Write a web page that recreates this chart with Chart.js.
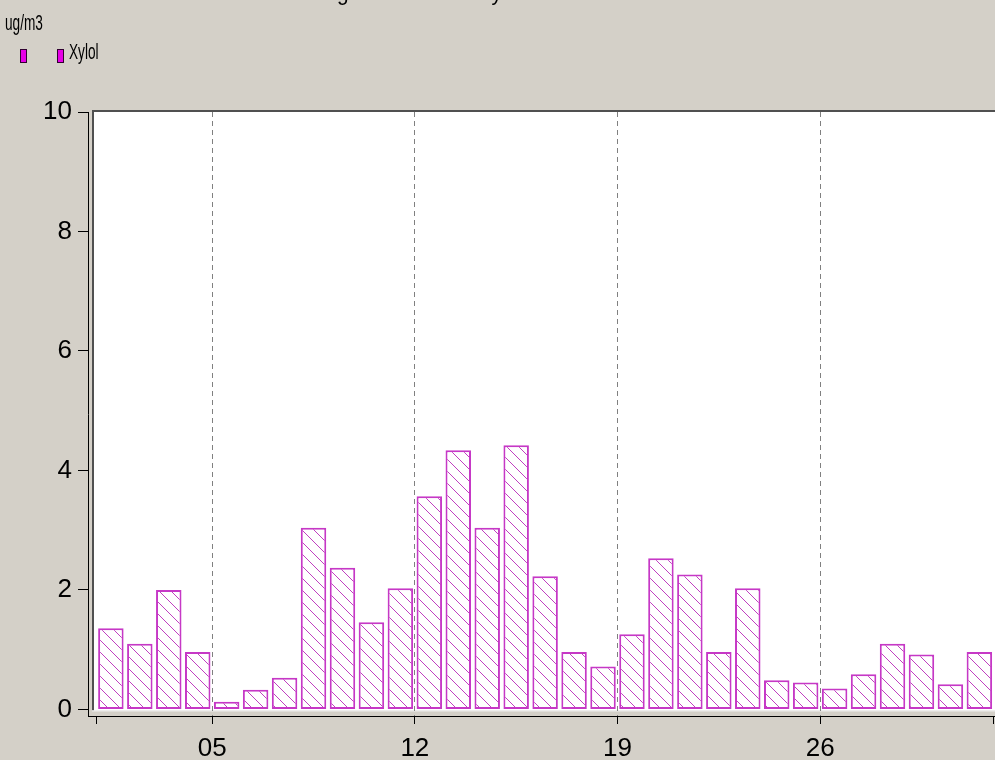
<!DOCTYPE html>
<html>
<head>
<meta charset="utf-8">
<script src="https://cdn.jsdelivr.net/npm/chart.js@4/dist/chart.umd.min.js"></script>
<style>
  html, body { margin: 0; padding: 0; background: #d4d0c8; }
  #wrap { position: relative; width: 995px; height: 760px; overflow: hidden; }
  #chart { position: absolute; left: 0; top: 0; }
  .txt {
    position: absolute; white-space: nowrap; color: #000;
    font-family: 'Liberation Sans', Arial, sans-serif;
    font-size: 22px; line-height: 22px;
    transform: scaleX(0.62); transform-origin: 0 0;
  }
  .sq { position: absolute; width: 5px; height: 12px; background: #e600e6; border: 1px solid #300030; }
</style>
</head>
<body>
<div id="wrap">
  <canvas id="chart" width="995" height="760"></canvas>
  <div class="txt" id="title" style="left:315px; top:-18px; transform:scaleX(0.95);">Tagesmittelwerte Xylol&nbsp;&nbsp; 01.10.2008 - 31.10.2008</div>
  <div class="txt" style="left:5px; top:12px;">ug/m3</div>
  <div class="sq" style="left:20px; top:49px;"></div>
  <div class="sq" style="left:57px; top:49px;"></div>
  <div class="txt" style="left:69px; top:41px;">Xylol</div>
</div>
<script>
// days of October 2008 (one bar per day, drawn at midday)
const DAYS = [1, 2, 3, 4, 5, 6, 7, 8, 9, 10, 11, 12, 13, 14, 15, 16,
  17, 18, 19, 20, 21, 22, 23, 24, 25, 26, 27, 28, 29, 30, 31];
// daily mean Xylol, ug/m3
const XYLOL = [1.36, 1.10, 2.00, 0.96, 0.13, 0.33, 0.53, 3.04, 2.37, 1.46, 2.03,
  3.57, 4.34, 3.04, 4.42, 2.23, 0.96, 0.72, 1.26, 2.53, 2.26, 0.96, 2.03,
  0.49, 0.45, 0.35, 0.59, 1.10, 0.92, 0.42, 0.96];
const X_TICKS = [1, 5, 12, 19, 26, 32];
const X_LABELS = ['', '05', '12', '19', '26', ''];
const Y_TICKS = [0, 2, 4, 6, 8, 10];

const FONT = { family: "'Liberation Sans', Arial, sans-serif", size: 26 };

function hatch() {
  const c = document.createElement('canvas');
  c.width = 12; c.height = 12;
  const g = c.getContext('2d');
  g.fillStyle = '#ffffff';
  g.fillRect(0, 0, 12, 12);
  g.strokeStyle = '#c040c0';
  g.lineWidth = 1;
  g.beginPath();
  g.moveTo(0, 0); g.lineTo(12, 12);
  g.moveTo(-2, 10); g.lineTo(2, 14);
  g.moveTo(10, -2); g.lineTo(14, 2);
  g.stroke();
  return g.createPattern(c, 'repeat');
}

const plotFrame = {
  id: 'plotFrame',
  beforeDraw(chart) {
    const ctx = chart.ctx;
    const y0 = chart.scales.y.getPixelForValue(0);
    const top = chart.chartArea.top - 2;
    ctx.save();
    ctx.fillStyle = '#d4d0c8';
    ctx.fillRect(0, 0, chart.width, chart.height);
    ctx.fillStyle = '#ffffff';
    ctx.fillRect(92, top, chart.width - 92, y0 + 1 - top);
    ctx.fillStyle = '#505050';
    ctx.fillRect(92, top, chart.width - 92, 2);
    ctx.fillRect(92, top, 2, y0 + 1 - top);
    ctx.fillStyle = '#f4f4f4';
    ctx.fillRect(92, y0 + 1, chart.width - 92, 1);
    ctx.restore();
  }
};

new Chart(document.getElementById('chart'), {
  type: 'bar',
  data: {
    datasets: [{
      label: 'Xylol',
      data: DAYS.map((d, i) => ({ x: d + 0.5, y: XYLOL[i] })),
      backgroundColor: hatch(),
      borderColor: '#c638c6',
      borderWidth: 2,
      borderSkipped: false,
      categoryPercentage: 1,
      barPercentage: 0.88,
    }]
  },
  options: {
    responsive: false,
    animation: false,
    layout: { padding: { top: 112, right: 0, left: 0, bottom: 0 } },
    plugins: { legend: { display: false }, tooltip: { enabled: false } },
    scales: {
      x: {
        type: 'linear',
        offset: false,
        min: 0.71,
        max: 32.04,
        afterBuildTicks: s => { s.ticks = X_TICKS.map(v => ({ value: v })); },
        afterFit: s => { s.height = 44; },
        ticks: {
          autoSkip: false, maxRotation: 0, color: '#000', padding: 0,
          font: { ...FONT, lineHeight: 1.88 },
          callback: (v) => X_LABELS[X_TICKS.indexOf(v)] ?? '',
        },
        grid: {
          offset: false,
          color: c => (c.tick && (c.tick.value === 1 || c.tick.value === 32)) ? 'rgba(0,0,0,0)' : '#808080',
          tickColor: '#000',
          tickLength: 8,
          lineWidth: 1,
        },
        border: { color: '#000', width: 1, dash: [5, 4] },
      },
      y: {
        min: -0.11,
        max: 10,
        afterBuildTicks: s => { s.ticks = Y_TICKS.map(v => ({ value: v })); },
        afterFit: s => { s.width = 88; },
        ticks: { color: '#000', font: FONT, padding: 6 },
        grid: { drawOnChartArea: false, tickColor: '#000', tickLength: 10 },
        border: { color: '#000', width: 1 },
      }
    }
  },
  plugins: [plotFrame]
});
</script>
</body>
</html>
